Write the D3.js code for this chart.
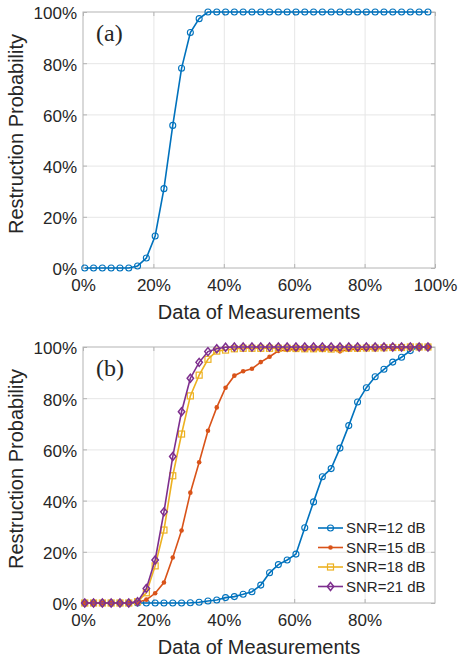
<!DOCTYPE html>
<html><head><meta charset="utf-8">
<script src="https://cdn.jsdelivr.net/npm/d3@7"></script>
<style>
html,body{margin:0;padding:0;background:#fff;}
svg{display:block;font-family:"Liberation Sans",Arial,Helvetica,sans-serif;}
</style></head>
<body>
<svg id="chart" width="460" height="660"></svg>
<script>
// ---- data ----
const measurementPct = [0.5,3,5.5,8,10.5,13,15.5,18,20.5,23,25.5,28,30.5,33,35.5,38,40.5,43,45.5,48,
  50.5,53,55.5,58,60.5,63,65.5,68,70.5,73,75.5,78,80.5,83,85.5,88,90.5,93,95.5,98];
const probA = [0,0,0,0,0,0,0.8,3.9,12.5,31,55.7,78,92,97.4,100,100,100,100,100,100,
  100,100,100,100,100,100,100,100,100,100,100,100,100,100,100,100,100,100,100,100];
const snr12 = [0,0,0,0,0,0,0,0,0,0,0,0,0.1,0.3,0.8,1.2,2.1,2.5,3.4,4.4,
  7,11.8,15,16.8,19.1,29.4,39.5,49.3,52.5,60.5,69.3,78.5,84.1,88.4,91.3,94.1,96,98.6,100,100];
const snr15 = [0,0,0,0,0,0,0.3,1.3,3.8,8,17.8,28.3,43.1,55,67.3,76.4,84.1,88.8,90.5,91.5,
  94.1,96.2,98.5,98.8,99,99,99,98.8,99,98.3,99,99,99.2,99.2,99.5,99.5,99.6,99.8,100,100];
const snr18 = [0,0,0,0,0,0,0.5,4,14.5,28.5,49.7,66,80.9,89,95.2,98.4,98.8,99.3,99.5,99.5,
  99.5,99.5,99.5,99.5,99.4,99.3,99.3,99.4,99.2,99.3,99.5,99.5,99.6,99.6,99.7,99.8,99.8,100,100,100];
const snr21 = [0,0,0,0,0,0,0.5,5.7,16.8,35.6,57.2,74.7,87.8,94,98.2,99.3,99.9,100,100,100,
  100,100,100,100,100,100,100,100,100,100,100,100,100,100,100,100,100,100,100,100];
const seriesNames = ["SNR=12 dB","SNR=15 dB","SNR=18 dB","SNR=21 dB"];
const xTicksA = [0,20,40,60,80,100];
const xTicksB = [0,20,40,60,80];
const yTicks = [0,20,40,60,80,100];

// ---- styles ----
const colors = ["#0072BD","#D95319","#EDB120","#7E2F8E"];
const markers = ["circle","dot","square","diamond"];
const boxColor = "#b4b4b4", gridColor = "#e6e6e6", textColor = "#262626";

const svg = d3.select("#chart");
svg.append("rect").attr("width",460).attr("height",660).attr("fill","#fff");

const x = d3.scaleLinear().domain([0,100]).range([83,435]);

function drawMarker(g, type, color, cx, cy){
  if(type==="circle"){
    g.append("circle").attr("cx",cx).attr("cy",cy).attr("r",3)
      .attr("fill","none").attr("stroke",color).attr("stroke-width",1.1);
  } else if(type==="dot"){
    g.append("circle").attr("cx",cx).attr("cy",cy).attr("r",2.3).attr("fill",color);
  } else if(type==="square"){
    g.append("rect").attr("x",cx-3).attr("y",cy-3).attr("width",6).attr("height",6)
      .attr("fill","none").attr("stroke",color).attr("stroke-width",1.2);
  } else {
    g.append("path").attr("d",`M${cx},${cy-4}L${cx+3.2},${cy}L${cx},${cy+4}L${cx-3.2},${cy}Z`)
      .attr("fill","none").attr("stroke",color).attr("stroke-width",1.5);
  }
}

function panel(top, bottom, xTicks, label, series){
  const y = d3.scaleLinear().domain([0,100]).range([bottom, top]);
  const g = svg.append("g");
  // grid
  g.append("g").attr("transform",`translate(0,${bottom})`)
    .call(d3.axisBottom(x).tickValues([20,40,60,80]).tickSize(-(bottom-top)).tickFormat(""))
    .call(s=>{s.select(".domain").remove(); s.selectAll("line").attr("stroke",gridColor);});
  g.append("g").attr("transform",`translate(83,0)`)
    .call(d3.axisLeft(y).tickValues([20,40,60,80]).tickSize(-(435-83)).tickFormat(""))
    .call(s=>{s.select(".domain").remove(); s.selectAll("line").attr("stroke",gridColor);});
  // box
  g.append("rect").attr("x",x(0)).attr("y",top).attr("width",x(100)-x(0)).attr("height",bottom-top)
    .attr("fill","none").attr("stroke",boxColor).attr("stroke-width",1);
  // axes with inward ticks
  const styleAxis = s=>{
    s.select(".domain").remove();
    s.selectAll("line").attr("stroke",boxColor);
    s.selectAll("text").attr("fill",textColor).attr("font-size",17)
      .attr("font-family","'Liberation Sans',Arial,sans-serif");
  };
  g.append("g").attr("transform",`translate(0,${bottom})`)
    .call(d3.axisBottom(x).tickValues(xTicks).tickSizeInner(-4).tickSizeOuter(0).tickPadding(11)
      .tickFormat(d=>d+"%")).call(styleAxis);
  g.append("g").attr("transform",`translate(0,${top})`)
    .call(d3.axisTop(x).tickValues(xTicks).tickSizeInner(-4).tickSizeOuter(0).tickFormat(""))
    .call(styleAxis);
  g.append("g").attr("transform",`translate(${x(0)},0)`)
    .call(d3.axisLeft(y).tickValues(yTicks).tickSizeInner(-4).tickSizeOuter(0).tickPadding(6)
      .tickFormat(d=>d+"%")).call(styleAxis)
    .call(s=>s.selectAll("text").attr("dy","0.4em"));
  g.append("g").attr("transform",`translate(${x(100)},0)`)
    .call(d3.axisRight(y).tickValues(yTicks).tickSizeInner(-4).tickSizeOuter(0).tickFormat(""))
    .call(styleAxis);
  // labels
  g.append("text").attr("x",(x(0)+x(100))/2).attr("y",bottom+51).attr("text-anchor","middle")
    .attr("font-size",20).attr("fill",textColor).text("Data of Measurements");
  g.append("text").attr("transform",`translate(23,${(top+bottom)/2-6}) rotate(-90)`)
    .attr("text-anchor","middle").attr("font-size",20).attr("fill",textColor)
    .text("Restruction Probability");
  g.append("text").attr("x",96).attr("y",top+29)
    .attr("font-family","'Liberation Serif','Times New Roman',serif")
    .attr("font-size",24).attr("fill",textColor).text(label);
  // series
  const line = d3.line().x((d,i)=>x(measurementPct[i])).y(d=>y(d));
  series.forEach(s=>{
    const sg = g.append("g");
    sg.append("path").attr("d",line(s.values)).attr("fill","none")
      .attr("stroke",s.color).attr("stroke-width",1.6);
    s.values.forEach((v,i)=>drawMarker(sg, s.marker, s.color, x(measurementPct[i]), y(v)));
  });
  return {g, y};
}

panel(12, 268, xTicksA, "(a)", [{values:probA, color:colors[0], marker:"circle"}]);

const allB = [snr12,snr15,snr18,snr21];
const pb = panel(347, 603, xTicksB, "(b)",
  allB.map((v,k)=>({values:v, color:colors[k], marker:markers[k]})));

// legend
const lg = svg.append("g");
seriesNames.forEach((name,k)=>{
  const ly = 528 + k*19.5;
  lg.append("line").attr("x1",318).attr("x2",343).attr("y1",ly).attr("y2",ly)
    .attr("stroke",colors[k]).attr("stroke-width",1.6);
  drawMarker(lg, markers[k], colors[k], 330.5, ly);
  lg.append("text").attr("x",346).attr("y",ly).attr("dy","0.36em")
    .attr("font-size",15).attr("fill",textColor).text(name);
});
</script>
</body></html>
